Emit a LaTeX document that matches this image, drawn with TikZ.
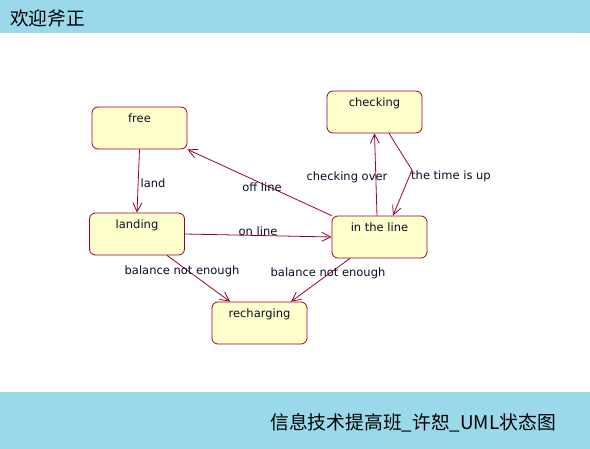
\documentclass[tikz,border=0pt]{standalone}
\usepackage{fontspec}
\setmainfont{DejaVu Sans}
\newfontfamily\cjk{Noto Sans CJK SC}
\usetikzlibrary{arrows.meta}
\definecolor{edgec}{RGB}{153,0,51}
\definecolor{boxfill}{RGB}{255,255,204}
\definecolor{band}{RGB}{153,217,234}
\definecolor{txt}{RGB}{10,10,40}
\begin{document}
\begin{tikzpicture}[x=1pt,y=-1pt,
  statebox/.style={draw=edgec,fill=boxfill,rounded corners=6pt,minimum width=95pt,minimum height=42pt,inner sep=0pt,line width=0.8pt},
  toptext/.style={font=\fontsize{11.5}{13}\selectfont,text=txt},
  trans/.style={draw=edgec,line width=0.8pt,-{Straight Barb[length=9pt,width=9pt,line width=0.8pt]}},
  elabel/.style={font=\fontsize{11.5}{13}\selectfont,inner sep=0pt,text=txt}]
\useasboundingbox (0,0) rectangle (590,449);
\fill[band] (0,0) rectangle (590,33);
\fill[band] (0,392) rectangle (590,449);
\node[font=\cjk\fontsize{18.7}{20}\selectfont,anchor=west,inner sep=0pt] (title) at (10,18) {欢迎斧正};
\node[font=\cjk\fontsize{18.8}{20}\selectfont,anchor=west,inner sep=0pt] (footer) at (270,423) {信息技术提高班\_许恕\_UML状态图};

\node[statebox] (free) at (139.5,128) {};
\node[statebox] (landing) at (137,234) {};
\node[statebox] (checking) at (374.5,112) {};
\node[statebox] (inline) at (379.5,237) {};
\node[statebox] (recharging) at (259.5,323) {};

\node[toptext,anchor=north] at ([yshift=-3.5pt]free.north) {free};
\node[toptext,anchor=north] at ([yshift=-3.5pt]landing.north) {landing};
\node[toptext,anchor=north] at ([yshift=-3.5pt]checking.north) {checking};
\node[toptext,anchor=north] at ([yshift=-3.5pt]inline.north) {in the line};
\node[toptext,anchor=north] at ([yshift=-3.5pt]recharging.north) {recharging};

\coordinate (bend) at (412,170);

\draw[trans] (free.south) -- (landing.north);
\draw[trans] (inline.north west) -- (free.south east);
\draw[trans] (landing.east) -- (inline.west);
\draw[trans] ([xshift=-2.5pt]inline.north) -- (checking.south);
\draw[trans] ([xshift=14.5pt]checking.south) -- (bend) -- ([xshift=13.5pt]inline.north);
\draw[trans] ([xshift=30pt]landing.south) -- ([xshift=-29.5pt]recharging.north);
\draw[trans] ([xshift=-29.5pt]inline.south) -- ([xshift=31.5pt]recharging.north);

\node[elabel] (l1) at (153,183) {land};
\node[elabel] (l2) at (262,187) {off line};
\node[elabel] (l3) at (258,231) {on line};
\node[elabel] (l4) at (347,177) {checking over};
\node[elabel] (l5) at (451,176) {the time is up};
\node[elabel] (l6) at (182,271) {balance not enough};
\node[elabel] (l7) at (328,273) {balance not enough};
\end{tikzpicture}
\end{document}
